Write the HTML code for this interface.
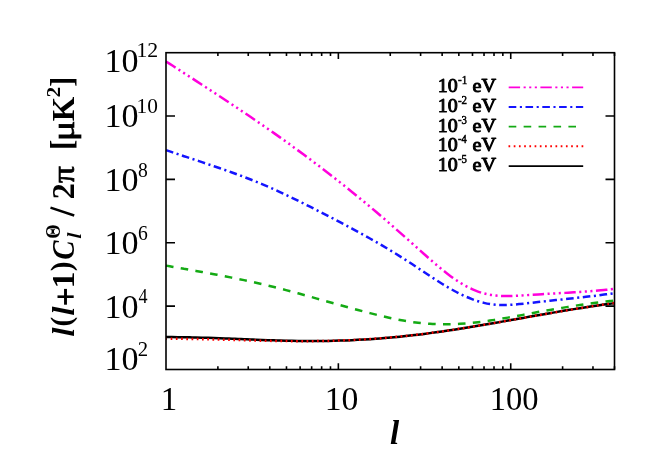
<!DOCTYPE html>
<html><head><meta charset="utf-8"><style>
html,body{margin:0;padding:0;background:#fff;}
svg{display:block;font-family:"Liberation Serif",serif;will-change:transform;}
</style></head><body>
<svg width="664" height="475" viewBox="0 0 664 475">
<rect x="0" y="0" width="664" height="475" fill="#fff"/>
<g fill="none" stroke-width="2.5" stroke-linejoin="round">
<path d="M166.00,337.08 C167.00,337.08 170.00,337.08 172.00,337.09 C174.00,337.10 176.00,337.11 178.00,337.13 C180.00,337.16 182.00,337.18 184.00,337.22 C186.00,337.25 188.00,337.29 190.00,337.33 C192.00,337.38 194.00,337.42 196.00,337.48 C198.00,337.53 200.00,337.58 202.00,337.64 C204.00,337.70 206.00,337.77 208.00,337.83 C210.00,337.90 212.00,337.97 214.00,338.04 C216.00,338.11 218.00,338.19 220.00,338.27 C222.00,338.34 224.00,338.42 226.00,338.50 C228.00,338.58 230.00,338.66 232.00,338.74 C234.00,338.82 236.00,338.91 238.00,338.99 C240.00,339.07 242.00,339.16 244.00,339.24 C246.00,339.32 248.00,339.40 250.00,339.48 C252.00,339.56 254.00,339.64 256.00,339.72 C258.00,339.80 260.00,339.88 262.00,339.95 C264.00,340.03 266.00,340.10 268.00,340.17 C270.00,340.24 272.00,340.31 274.00,340.37 C276.00,340.43 278.00,340.50 280.00,340.55 C282.00,340.61 284.00,340.66 286.00,340.71 C288.00,340.76 290.00,340.80 292.00,340.84 C294.00,340.88 296.00,340.92 298.00,340.94 C300.00,340.97 302.00,341.00 304.00,341.01 C306.00,341.03 308.00,341.04 310.00,341.04 C312.00,341.05 314.00,341.04 316.00,341.03 C318.00,341.03 320.00,341.01 322.00,340.99 C324.00,340.96 326.00,340.93 328.00,340.90 C330.00,340.86 332.00,340.82 334.00,340.77 C336.00,340.72 338.00,340.66 340.00,340.60 C342.00,340.53 344.00,340.46 346.00,340.38 C348.00,340.31 350.00,340.22 352.00,340.13 C354.00,340.04 356.00,339.94 358.00,339.84 C360.00,339.73 362.00,339.62 364.00,339.50 C366.00,339.39 368.00,339.26 370.00,339.13 C372.00,339.00 374.00,338.86 376.00,338.71 C378.00,338.57 380.00,338.41 382.00,338.26 C384.00,338.10 386.00,337.93 388.00,337.76 C390.00,337.58 392.00,337.40 394.00,337.22 C396.00,337.03 398.00,336.84 400.00,336.64 C402.00,336.44 404.00,336.23 406.00,336.02 C408.00,335.80 410.00,335.58 412.00,335.35 C414.00,335.13 416.00,334.89 418.00,334.65 C420.00,334.41 422.00,334.16 424.00,333.90 C426.00,333.65 428.00,333.39 430.00,333.12 C432.00,332.86 434.00,332.58 436.00,332.30 C438.00,332.03 440.00,331.74 442.00,331.45 C444.00,331.16 446.00,330.87 448.00,330.57 C450.00,330.27 452.00,329.97 454.00,329.66 C456.00,329.35 458.00,329.04 460.00,328.72 C462.00,328.41 464.00,328.09 466.00,327.76 C468.00,327.44 470.00,327.11 472.00,326.78 C474.00,326.45 476.00,326.12 478.00,325.78 C480.00,325.45 482.00,325.11 484.00,324.76 C486.00,324.42 488.00,324.08 490.00,323.73 C492.00,323.39 494.00,323.04 496.00,322.69 C498.00,322.34 500.00,321.99 502.00,321.64 C504.00,321.28 506.00,320.93 508.00,320.58 C510.00,320.22 512.00,319.87 514.00,319.51 C516.00,319.16 518.00,318.80 520.00,318.44 C522.00,318.09 524.00,317.73 526.00,317.38 C528.00,317.02 530.00,316.67 532.00,316.31 C534.00,315.96 536.00,315.60 538.00,315.25 C540.00,314.90 542.00,314.55 544.00,314.20 C546.00,313.85 548.00,313.50 550.00,313.15 C552.00,312.81 554.00,312.46 556.00,312.12 C558.00,311.78 560.00,311.44 562.00,311.10 C564.00,310.77 566.00,310.43 568.00,310.10 C570.00,309.77 572.00,309.44 574.00,309.12 C576.00,308.79 578.00,308.47 580.00,308.16 C582.00,307.84 584.00,307.53 586.00,307.22 C588.00,306.91 590.00,306.61 592.00,306.31 C594.00,306.01 596.00,305.71 598.00,305.42 C600.00,305.13 602.00,304.85 604.00,304.57 C606.00,304.29 608.25,303.98 610.00,303.75 C611.75,303.51 613.75,303.26 614.50,303.16" stroke="#000"/>
<path d="M166.00,338.82 C167.00,338.82 170.00,338.81 172.00,338.81 C174.00,338.82 176.00,338.82 178.00,338.83 C180.00,338.85 182.00,338.86 184.00,338.88 C186.00,338.90 188.00,338.92 190.00,338.95 C192.00,338.98 194.00,339.01 196.00,339.04 C198.00,339.08 200.00,339.11 202.00,339.15 C204.00,339.19 206.00,339.24 208.00,339.28 C210.00,339.32 212.00,339.37 214.00,339.42 C216.00,339.47 218.00,339.52 220.00,339.57 C222.00,339.62 224.00,339.67 226.00,339.73 C228.00,339.78 230.00,339.83 232.00,339.89 C234.00,339.94 236.00,340.00 238.00,340.05 C240.00,340.11 242.00,340.16 244.00,340.22 C246.00,340.27 248.00,340.32 250.00,340.38 C252.00,340.43 254.00,340.48 256.00,340.53 C258.00,340.58 260.00,340.63 262.00,340.67 C264.00,340.72 266.00,340.77 268.00,340.81 C270.00,340.85 272.00,340.89 274.00,340.93 C276.00,340.96 278.00,341.00 280.00,341.03 C282.00,341.06 284.00,341.09 286.00,341.11 C288.00,341.13 290.00,341.15 292.00,341.17 C294.00,341.19 296.00,341.20 298.00,341.20 C300.00,341.21 302.00,341.21 304.00,341.21 C306.00,341.21 308.00,341.20 310.00,341.18 C312.00,341.17 314.00,341.15 316.00,341.12 C318.00,341.10 320.00,341.07 322.00,341.03 C324.00,341.00 326.00,340.95 328.00,340.90 C330.00,340.86 332.00,340.80 334.00,340.74 C336.00,340.68 338.00,340.62 340.00,340.54 C342.00,340.47 344.00,340.39 346.00,340.31 C348.00,340.23 350.00,340.14 352.00,340.04 C354.00,339.95 356.00,339.84 358.00,339.73 C360.00,339.63 362.00,339.51 364.00,339.39 C366.00,339.27 368.00,339.14 370.00,339.01 C372.00,338.88 374.00,338.74 376.00,338.59 C378.00,338.45 380.00,338.29 382.00,338.14 C384.00,337.98 386.00,337.81 388.00,337.64 C390.00,337.47 392.00,337.29 394.00,337.11 C396.00,336.92 398.00,336.73 400.00,336.53 C402.00,336.34 404.00,336.13 406.00,335.92 C408.00,335.71 410.00,335.49 412.00,335.27 C414.00,335.04 416.00,334.81 418.00,334.57 C420.00,334.33 422.00,334.09 424.00,333.84 C426.00,333.59 428.00,333.33 430.00,333.07 C432.00,332.80 434.00,332.53 436.00,332.26 C438.00,331.99 440.00,331.71 442.00,331.42 C444.00,331.14 446.00,330.85 448.00,330.55 C450.00,330.26 452.00,329.96 454.00,329.65 C456.00,329.35 458.00,329.04 460.00,328.73 C462.00,328.41 464.00,328.10 466.00,327.78 C468.00,327.46 470.00,327.13 472.00,326.81 C474.00,326.48 476.00,326.15 478.00,325.82 C480.00,325.48 482.00,325.15 484.00,324.81 C486.00,324.47 488.00,324.13 490.00,323.79 C492.00,323.44 494.00,323.10 496.00,322.75 C498.00,322.40 500.00,322.05 502.00,321.70 C504.00,321.35 506.00,321.00 508.00,320.65 C510.00,320.30 512.00,319.94 514.00,319.59 C516.00,319.24 518.00,318.88 520.00,318.53 C522.00,318.17 524.00,317.82 526.00,317.46 C528.00,317.11 530.00,316.75 532.00,316.40 C534.00,316.04 536.00,315.69 538.00,315.33 C540.00,314.98 542.00,314.63 544.00,314.28 C546.00,313.93 548.00,313.58 550.00,313.23 C552.00,312.88 554.00,312.53 556.00,312.19 C558.00,311.85 560.00,311.50 562.00,311.16 C564.00,310.82 566.00,310.49 568.00,310.15 C570.00,309.82 572.00,309.48 574.00,309.15 C576.00,308.83 578.00,308.50 580.00,308.18 C582.00,307.85 584.00,307.54 586.00,307.22 C588.00,306.91 590.00,306.59 592.00,306.29 C594.00,305.98 596.00,305.68 598.00,305.38 C600.00,305.08 602.00,304.79 604.00,304.50 C606.00,304.21 608.25,303.90 610.00,303.65 C611.75,303.41 613.75,303.14 614.50,303.04" stroke="#ff0000" stroke-dasharray="1.7 3.53" stroke-dashoffset="0.6"/>
<path d="M166.00,265.63 C167.00,265.81 170.00,266.33 172.00,266.68 C174.00,267.03 176.00,267.38 178.00,267.73 C180.00,268.08 182.00,268.43 184.00,268.78 C186.00,269.13 188.00,269.48 190.00,269.84 C192.00,270.19 194.00,270.54 196.00,270.90 C198.00,271.26 200.00,271.62 202.00,271.98 C204.00,272.34 206.00,272.70 208.00,273.07 C210.00,273.44 212.00,273.81 214.00,274.18 C216.00,274.56 218.00,274.93 220.00,275.31 C222.00,275.70 224.00,276.08 226.00,276.47 C228.00,276.86 230.00,277.26 232.00,277.66 C234.00,278.06 236.00,278.46 238.00,278.88 C240.00,279.29 242.00,279.70 244.00,280.13 C246.00,280.55 248.00,280.98 250.00,281.42 C252.00,281.86 254.00,282.30 256.00,282.75 C258.00,283.20 260.00,283.66 262.00,284.13 C264.00,284.59 266.00,285.07 268.00,285.55 C270.00,286.03 272.00,286.52 274.00,287.02 C276.00,287.52 278.00,288.03 280.00,288.54 C282.00,289.06 284.00,289.58 286.00,290.10 C288.00,290.63 290.00,291.16 292.00,291.70 C294.00,292.24 296.00,292.78 298.00,293.33 C300.00,293.87 302.00,294.42 304.00,294.98 C306.00,295.53 308.00,296.09 310.00,296.64 C312.00,297.20 314.00,297.76 316.00,298.33 C318.00,298.89 320.00,299.45 322.00,300.01 C324.00,300.58 326.00,301.14 328.00,301.71 C330.00,302.27 332.00,302.83 334.00,303.39 C336.00,303.96 338.00,304.52 340.00,305.07 C342.00,305.63 344.00,306.19 346.00,306.74 C348.00,307.29 350.00,307.84 352.00,308.38 C354.00,308.93 356.00,309.47 358.00,310.01 C360.00,310.54 362.00,311.07 364.00,311.59 C366.00,312.12 368.00,312.64 370.00,313.15 C372.00,313.66 374.00,314.16 376.00,314.66 C378.00,315.15 380.00,315.64 382.00,316.11 C384.00,316.58 386.00,317.04 388.00,317.49 C390.00,317.93 392.00,318.37 394.00,318.78 C396.00,319.19 398.00,319.59 400.00,319.97 C402.00,320.34 404.00,320.70 406.00,321.03 C408.00,321.37 410.00,321.68 412.00,321.97 C414.00,322.25 416.00,322.52 418.00,322.75 C420.00,322.99 422.00,323.19 424.00,323.37 C426.00,323.55 428.00,323.70 430.00,323.83 C432.00,323.95 434.00,324.04 436.00,324.12 C438.00,324.19 440.00,324.23 442.00,324.25 C444.00,324.27 446.00,324.27 448.00,324.24 C450.00,324.21 452.00,324.16 454.00,324.08 C456.00,324.01 458.00,323.91 460.00,323.79 C462.00,323.67 464.00,323.53 466.00,323.37 C468.00,323.21 470.00,323.03 472.00,322.83 C474.00,322.63 476.00,322.41 478.00,322.18 C480.00,321.94 482.00,321.69 484.00,321.42 C486.00,321.15 488.00,320.87 490.00,320.57 C492.00,320.28 494.00,319.96 496.00,319.65 C498.00,319.33 500.00,318.99 502.00,318.65 C504.00,318.32 506.00,317.97 508.00,317.61 C510.00,317.26 512.00,316.89 514.00,316.53 C516.00,316.17 518.00,315.79 520.00,315.42 C522.00,315.05 524.00,314.67 526.00,314.30 C528.00,313.93 530.00,313.55 532.00,313.18 C534.00,312.81 536.00,312.44 538.00,312.07 C540.00,311.70 542.00,311.34 544.00,310.98 C546.00,310.62 548.00,310.27 550.00,309.92 C552.00,309.57 554.00,309.22 556.00,308.88 C558.00,308.53 560.00,308.20 562.00,307.86 C564.00,307.53 566.00,307.20 568.00,306.88 C570.00,306.56 572.00,306.24 574.00,305.93 C576.00,305.62 578.00,305.31 580.00,305.02 C582.00,304.72 584.00,304.42 586.00,304.14 C588.00,303.85 590.00,303.57 592.00,303.29 C594.00,303.02 596.00,302.75 598.00,302.49 C600.00,302.24 602.00,301.98 604.00,301.74 C606.00,301.49 608.25,301.23 610.00,301.03 C611.75,300.82 613.75,300.61 614.50,300.52" stroke="#14aa14" stroke-dasharray="7.6 7.33"/>
<path d="M166.00,150.11 C167.00,150.45 170.00,151.48 172.00,152.16 C174.00,152.84 176.00,153.52 178.00,154.19 C180.00,154.86 182.00,155.53 184.00,156.20 C186.00,156.86 188.00,157.53 190.00,158.19 C192.00,158.86 194.00,159.52 196.00,160.18 C198.00,160.85 200.00,161.51 202.00,162.18 C204.00,162.84 206.00,163.51 208.00,164.18 C210.00,164.86 212.00,165.53 214.00,166.21 C216.00,166.89 218.00,167.57 220.00,168.27 C222.00,168.96 224.00,169.65 226.00,170.36 C228.00,171.06 230.00,171.77 232.00,172.49 C234.00,173.21 236.00,173.94 238.00,174.67 C240.00,175.41 242.00,176.16 244.00,176.92 C246.00,177.68 248.00,178.45 250.00,179.23 C252.00,180.01 254.00,180.81 256.00,181.62 C258.00,182.43 260.00,183.25 262.00,184.09 C264.00,184.93 266.00,185.78 268.00,186.65 C270.00,187.52 272.00,188.41 274.00,189.31 C276.00,190.21 278.00,191.12 280.00,192.05 C282.00,192.98 284.00,193.92 286.00,194.88 C288.00,195.83 290.00,196.79 292.00,197.76 C294.00,198.74 296.00,199.72 298.00,200.71 C300.00,201.70 302.00,202.70 304.00,203.70 C306.00,204.70 308.00,205.71 310.00,206.72 C312.00,207.73 314.00,208.74 316.00,209.76 C318.00,210.78 320.00,211.80 322.00,212.82 C324.00,213.84 326.00,214.87 328.00,215.90 C330.00,216.93 332.00,217.97 334.00,219.01 C336.00,220.05 338.00,221.10 340.00,222.15 C342.00,223.20 344.00,224.26 346.00,225.32 C348.00,226.39 350.00,227.46 352.00,228.54 C354.00,229.62 356.00,230.70 358.00,231.80 C360.00,232.89 362.00,234.00 364.00,235.11 C366.00,236.22 368.00,237.35 370.00,238.48 C372.00,239.61 374.00,240.75 376.00,241.91 C378.00,243.06 380.00,244.23 382.00,245.40 C384.00,246.58 386.00,247.77 388.00,248.97 C390.00,250.17 392.00,251.39 394.00,252.61 C396.00,253.84 398.00,255.08 400.00,256.34 C402.00,257.59 404.00,258.86 406.00,260.15 C408.00,261.43 410.00,262.73 412.00,264.04 C414.00,265.36 416.00,266.69 418.00,268.02 C420.00,269.35 422.00,270.69 424.00,272.02 C426.00,273.35 428.00,274.69 430.00,276.00 C432.00,277.32 434.00,278.63 436.00,279.92 C438.00,281.20 440.00,282.47 442.00,283.71 C444.00,284.94 446.00,286.16 448.00,287.33 C450.00,288.50 452.00,289.64 454.00,290.73 C456.00,291.82 458.00,292.88 460.00,293.87 C462.00,294.86 464.00,295.81 466.00,296.69 C468.00,297.57 470.00,298.39 472.00,299.14 C474.00,299.89 476.00,300.58 478.00,301.20 C480.00,301.82 482.00,302.37 484.00,302.84 C486.00,303.31 488.00,303.71 490.00,304.04 C492.00,304.36 494.00,304.60 496.00,304.77 C498.00,304.93 500.00,305.01 502.00,305.04 C504.00,305.07 506.00,305.02 508.00,304.94 C510.00,304.86 512.00,304.72 514.00,304.56 C516.00,304.41 518.00,304.21 520.00,304.02 C522.00,303.82 524.00,303.61 526.00,303.39 C528.00,303.18 530.00,302.95 532.00,302.73 C534.00,302.50 536.00,302.27 538.00,302.05 C540.00,301.82 542.00,301.60 544.00,301.38 C546.00,301.16 548.00,300.95 550.00,300.73 C552.00,300.52 554.00,300.31 556.00,300.10 C558.00,299.88 560.00,299.67 562.00,299.46 C564.00,299.25 566.00,299.04 568.00,298.83 C570.00,298.62 572.00,298.40 574.00,298.19 C576.00,297.97 578.00,297.75 580.00,297.53 C582.00,297.31 584.00,297.08 586.00,296.85 C588.00,296.62 590.00,296.38 592.00,296.14 C594.00,295.90 596.00,295.65 598.00,295.40 C600.00,295.14 602.00,294.88 604.00,294.61 C606.00,294.34 608.25,294.03 610.00,293.78 C611.75,293.53 613.75,293.23 614.50,293.12" stroke="#1414ff" stroke-dasharray="7.6 3.55 2.1 3.55"/>
<path d="M166.00,61.44 C167.00,62.09 170.00,64.03 172.00,65.32 C174.00,66.61 176.00,67.91 178.00,69.20 C180.00,70.49 182.00,71.79 184.00,73.08 C186.00,74.38 188.00,75.67 190.00,76.96 C192.00,78.26 194.00,79.56 196.00,80.86 C198.00,82.15 200.00,83.45 202.00,84.75 C204.00,86.06 206.00,87.36 208.00,88.66 C210.00,89.97 212.00,91.28 214.00,92.59 C216.00,93.90 218.00,95.21 220.00,96.53 C222.00,97.84 224.00,99.16 226.00,100.49 C228.00,101.81 230.00,103.14 232.00,104.47 C234.00,105.80 236.00,107.13 238.00,108.47 C240.00,109.81 242.00,111.15 244.00,112.50 C246.00,113.85 248.00,115.20 250.00,116.56 C252.00,117.92 254.00,119.28 256.00,120.65 C258.00,122.02 260.00,123.39 262.00,124.77 C264.00,126.16 266.00,127.54 268.00,128.94 C270.00,130.33 272.00,131.73 274.00,133.14 C276.00,134.54 278.00,135.96 280.00,137.38 C282.00,138.80 284.00,140.23 286.00,141.66 C288.00,143.10 290.00,144.54 292.00,145.99 C294.00,147.44 296.00,148.90 298.00,150.37 C300.00,151.84 302.00,153.31 304.00,154.79 C306.00,156.27 308.00,157.76 310.00,159.26 C312.00,160.76 314.00,162.27 316.00,163.78 C318.00,165.30 320.00,166.82 322.00,168.35 C324.00,169.88 326.00,171.42 328.00,172.97 C330.00,174.52 332.00,176.07 334.00,177.64 C336.00,179.20 338.00,180.78 340.00,182.36 C342.00,183.94 344.00,185.53 346.00,187.13 C348.00,188.73 350.00,190.34 352.00,191.96 C354.00,193.58 356.00,195.20 358.00,196.84 C360.00,198.48 362.00,200.12 364.00,201.78 C366.00,203.43 368.00,205.09 370.00,206.77 C372.00,208.44 374.00,210.12 376.00,211.82 C378.00,213.51 380.00,215.21 382.00,216.92 C384.00,218.64 386.00,220.36 388.00,222.09 C390.00,223.82 392.00,225.56 394.00,227.31 C396.00,229.06 398.00,230.82 400.00,232.59 C402.00,234.35 404.00,236.12 406.00,237.90 C408.00,239.67 410.00,241.45 412.00,243.24 C414.00,245.02 416.00,246.81 418.00,248.59 C420.00,250.38 422.00,252.17 424.00,253.95 C426.00,255.73 428.00,257.52 430.00,259.27 C432.00,261.02 434.00,262.76 436.00,264.46 C438.00,266.16 440.00,267.84 442.00,269.46 C444.00,271.07 446.00,272.66 448.00,274.17 C450.00,275.69 452.00,277.15 454.00,278.55 C456.00,279.94 458.00,281.27 460.00,282.53 C462.00,283.78 464.00,284.96 466.00,286.06 C468.00,287.15 470.00,288.17 472.00,289.09 C474.00,290.01 476.00,290.84 478.00,291.57 C480.00,292.30 482.00,292.92 484.00,293.45 C486.00,293.98 488.00,294.41 490.00,294.76 C492.00,295.12 494.00,295.38 496.00,295.58 C498.00,295.79 500.00,295.91 502.00,296.00 C504.00,296.08 506.00,296.09 508.00,296.08 C510.00,296.07 512.00,296.00 514.00,295.92 C516.00,295.84 518.00,295.72 520.00,295.60 C522.00,295.48 524.00,295.33 526.00,295.20 C528.00,295.06 530.00,294.92 532.00,294.79 C534.00,294.66 536.00,294.54 538.00,294.42 C540.00,294.29 542.00,294.18 544.00,294.06 C546.00,293.95 548.00,293.83 550.00,293.72 C552.00,293.61 554.00,293.50 556.00,293.38 C558.00,293.27 560.00,293.16 562.00,293.05 C564.00,292.93 566.00,292.82 568.00,292.70 C570.00,292.59 572.00,292.47 574.00,292.34 C576.00,292.22 578.00,292.09 580.00,291.96 C582.00,291.82 584.00,291.69 586.00,291.54 C588.00,291.40 590.00,291.25 592.00,291.09 C594.00,290.93 596.00,290.77 598.00,290.59 C600.00,290.42 602.00,290.23 604.00,290.04 C606.00,289.84 608.25,289.61 610.00,289.43 C611.75,289.24 613.75,289.01 614.50,288.92" stroke="#ff00dc" stroke-dasharray="11.4 3.5 2.1 3.5 2.1 3.5 2.1 3.5"/>
</g>
<g fill="none" stroke="#000" stroke-width="1.6">
<path d="M217.89,369.50 v-3.30 M217.89,52.70 v3.30"/>
<path d="M248.24,369.50 v-3.30 M248.24,52.70 v3.30"/>
<path d="M269.77,369.50 v-3.30 M269.77,52.70 v3.30"/>
<path d="M286.48,369.50 v-3.30 M286.48,52.70 v3.30"/>
<path d="M300.12,369.50 v-3.30 M300.12,52.70 v3.30"/>
<path d="M311.66,369.50 v-3.30 M311.66,52.70 v3.30"/>
<path d="M321.66,369.50 v-3.30 M321.66,52.70 v3.30"/>
<path d="M330.48,369.50 v-3.30 M330.48,52.70 v3.30"/>
<path d="M338.36,369.50 v-6.20 M338.36,52.70 v6.20"/>
<path d="M390.25,369.50 v-3.30 M390.25,52.70 v3.30"/>
<path d="M420.60,369.50 v-3.30 M420.60,52.70 v3.30"/>
<path d="M442.14,369.50 v-3.30 M442.14,52.70 v3.30"/>
<path d="M458.84,369.50 v-3.30 M458.84,52.70 v3.30"/>
<path d="M472.49,369.50 v-3.30 M472.49,52.70 v3.30"/>
<path d="M484.03,369.50 v-3.30 M484.03,52.70 v3.30"/>
<path d="M494.02,369.50 v-3.30 M494.02,52.70 v3.30"/>
<path d="M502.84,369.50 v-3.30 M502.84,52.70 v3.30"/>
<path d="M510.73,369.50 v-6.20 M510.73,52.70 v6.20"/>
<path d="M562.61,369.50 v-3.30 M562.61,52.70 v3.30"/>
<path d="M592.97,369.50 v-3.30 M592.97,52.70 v3.30"/>
<path d="M614.50,369.50 v-3.30 M614.50,52.70 v3.30"/>
<path d="M166.00,306.14 h9 M614.50,306.14 h-9"/>
<path d="M166.00,242.78 h9 M614.50,242.78 h-9"/>
<path d="M166.00,179.42 h9 M614.50,179.42 h-9"/>
<path d="M166.00,116.06 h9 M614.50,116.06 h-9"/>
<rect x="166.0" y="52.7" width="448.5" height="316.80"/>
</g>
<g fill="#000">
<text transform="translate(104.59,71.60) scale(1.0017,1)" font-size="34">10</text><text transform="translate(136.45,57.30) scale(1.0389,1)" font-size="21">12</text>
<text transform="translate(104.59,127.46) scale(1.0017,1)" font-size="34">10</text><text transform="translate(136.49,113.16) scale(1.0177,1)" font-size="21">10</text>
<text transform="translate(104.59,190.82) scale(1.0017,1)" font-size="34">10</text><text transform="translate(138.00,176.52) scale(0.9333,1)" font-size="21">8</text>
<text transform="translate(104.59,254.18) scale(1.0017,1)" font-size="34">10</text><text transform="translate(137.88,239.88) scale(0.9333,1)" font-size="21">6</text>
<text transform="translate(104.59,317.54) scale(1.0017,1)" font-size="34">10</text><text transform="translate(138.38,303.24) scale(0.8615,1)" font-size="21">4</text>
<text transform="translate(104.59,370.40) scale(1.0017,1)" font-size="34">10</text><text transform="translate(137.84,356.10) scale(0.9882,1)" font-size="21">2</text>
<text transform="translate(160.80,410.00) scale(0.9667,1)" font-size="34">1</text>
<text transform="translate(324.73,410.00) scale(0.9916,1)" font-size="34">10</text>
<text transform="translate(489.78,410.00) scale(0.9583,1)" font-size="34">100</text>
<text transform="translate(390.07,443.80) scale(0.9739,1)" font-size="34" font-weight="bold" font-style="italic">l</text>
</g>
<g fill="#000" transform="translate(73.5,340.4) rotate(-90)">
<text transform="translate(3.75,0.00) skewX(-1.56)" font-size="31.7" font-weight="bold" font-style="italic">l</text>
<text x="13.95" y="-2.20" font-size="29.3" font-weight="bold">(</text>
<text transform="translate(24.65,0.00) skewX(-1.56)" font-size="31.7" font-weight="bold" font-style="italic">l</text>
<text transform="translate(52.02,0.00) scale(1.0723,1)" font-size="31.7" font-weight="bold">1</text>
<text x="69.20" y="-2.20" font-size="29.3" font-weight="bold">)</text>
<text transform="translate(80.68,0.00) scale(0.9086,1)" font-size="31.7" font-weight="bold" font-style="italic">C</text>
<text transform="translate(101.70,7.60) skewX(-3.30)" font-size="20" font-weight="bold" font-style="italic">l</text>
<text transform="translate(101.67,-13.60) scale(0.9321,1)" font-size="20" font-weight="bold">Θ</text>
<text transform="translate(141.21,0.00) scale(1.0133,1)" font-size="31.7" font-weight="bold">2</text>
<text transform="translate(157.47,0.00) scale(1.0533,1)" font-size="31.7" stroke="#000" stroke-width="0.7">π</text>
<text transform="translate(190.46,-1.30) scale(0.9857,1)" font-size="31.7" font-weight="bold">[</text>
<text transform="translate(199.20,0.00) scale(1.2190,1)" font-size="31.7" stroke="#000" stroke-width="0.7">μ</text>
<text transform="translate(219.12,0.00) scale(0.9624,1)" font-size="32.6" font-weight="bold">K</text>
<text transform="translate(242.94,-13.50) scale(1.1000,1)" font-size="19.5" font-weight="bold">2</text>
<text transform="translate(253.73,-1.30) scale(0.9544,1)" font-size="31.7" font-weight="bold">]</text>
<rect x="35.7" y="-9.45" width="15.8" height="2.9"/><rect x="42.4" y="-16" width="2.6" height="16.2"/>
<line x1="124.9" y1="0.7" x2="132.8" y2="-23" stroke="#000" stroke-width="2.5"/>
</g>
<g fill="#000">
<text transform="translate(437.79,92.05) scale(1.0526,1)" font-size="19.0" stroke="#000" stroke-width="0.95" stroke-linejoin="round">10</text><text transform="translate(457.94,84.20) scale(0.9647,1)" font-size="11.5" stroke="#000" stroke-width="0.5">-1</text><text transform="translate(472.40,92.05) scale(1.0682,1)" font-size="19.0" stroke="#000" stroke-width="0.95" stroke-linejoin="round">eV</text>
<text transform="translate(437.79,111.80) scale(1.0526,1)" font-size="19.0" stroke="#000" stroke-width="0.95" stroke-linejoin="round">10</text><text transform="translate(457.94,103.95) scale(0.9507,1)" font-size="11.5" stroke="#000" stroke-width="0.5">-2</text><text transform="translate(472.40,111.80) scale(1.0682,1)" font-size="19.0" stroke="#000" stroke-width="0.95" stroke-linejoin="round">eV</text>
<text transform="translate(437.79,131.55) scale(1.0526,1)" font-size="19.0" stroke="#000" stroke-width="0.95" stroke-linejoin="round">10</text><text transform="translate(457.95,123.70) scale(0.9371,1)" font-size="11.5" stroke="#000" stroke-width="0.5">-3</text><text transform="translate(472.40,131.55) scale(1.0682,1)" font-size="19.0" stroke="#000" stroke-width="0.95" stroke-linejoin="round">eV</text>
<text transform="translate(437.79,151.30) scale(1.0526,1)" font-size="19.0" stroke="#000" stroke-width="0.95" stroke-linejoin="round">10</text><text transform="translate(457.96,143.45) scale(0.9111,1)" font-size="11.5" stroke="#000" stroke-width="0.5">-4</text><text transform="translate(472.40,151.30) scale(1.0682,1)" font-size="19.0" stroke="#000" stroke-width="0.95" stroke-linejoin="round">eV</text>
<text transform="translate(437.79,171.05) scale(1.0526,1)" font-size="19.0" stroke="#000" stroke-width="0.95" stroke-linejoin="round">10</text><text transform="translate(457.95,163.20) scale(0.9371,1)" font-size="11.5" stroke="#000" stroke-width="0.5">-5</text><text transform="translate(472.40,171.05) scale(1.0682,1)" font-size="19.0" stroke="#000" stroke-width="0.95" stroke-linejoin="round">eV</text>
</g>
<g fill="none" stroke-width="1.8">
<path d="M508.7,87.3 H583.2" stroke="#ff00dc" stroke-dasharray="11.4 3.5 2.1 3.5 2.1 3.5 2.1 3.5"/>
<path d="M508.7,107.0 H583.2" stroke="#1414ff" stroke-dasharray="7.6 3.55 2.1 3.55"/>
<path d="M508.7,126.65 H576" stroke="#14aa14" stroke-dasharray="7.6 7.33"/>
<path d="M508.5,146.3 H584" stroke="#ff0000" stroke-dasharray="1.7 3.52" stroke-width="1.9"/>
<path d="M508.7,166.05 H583.2" stroke="#000"/>
</g>
</svg>
</body></html>
